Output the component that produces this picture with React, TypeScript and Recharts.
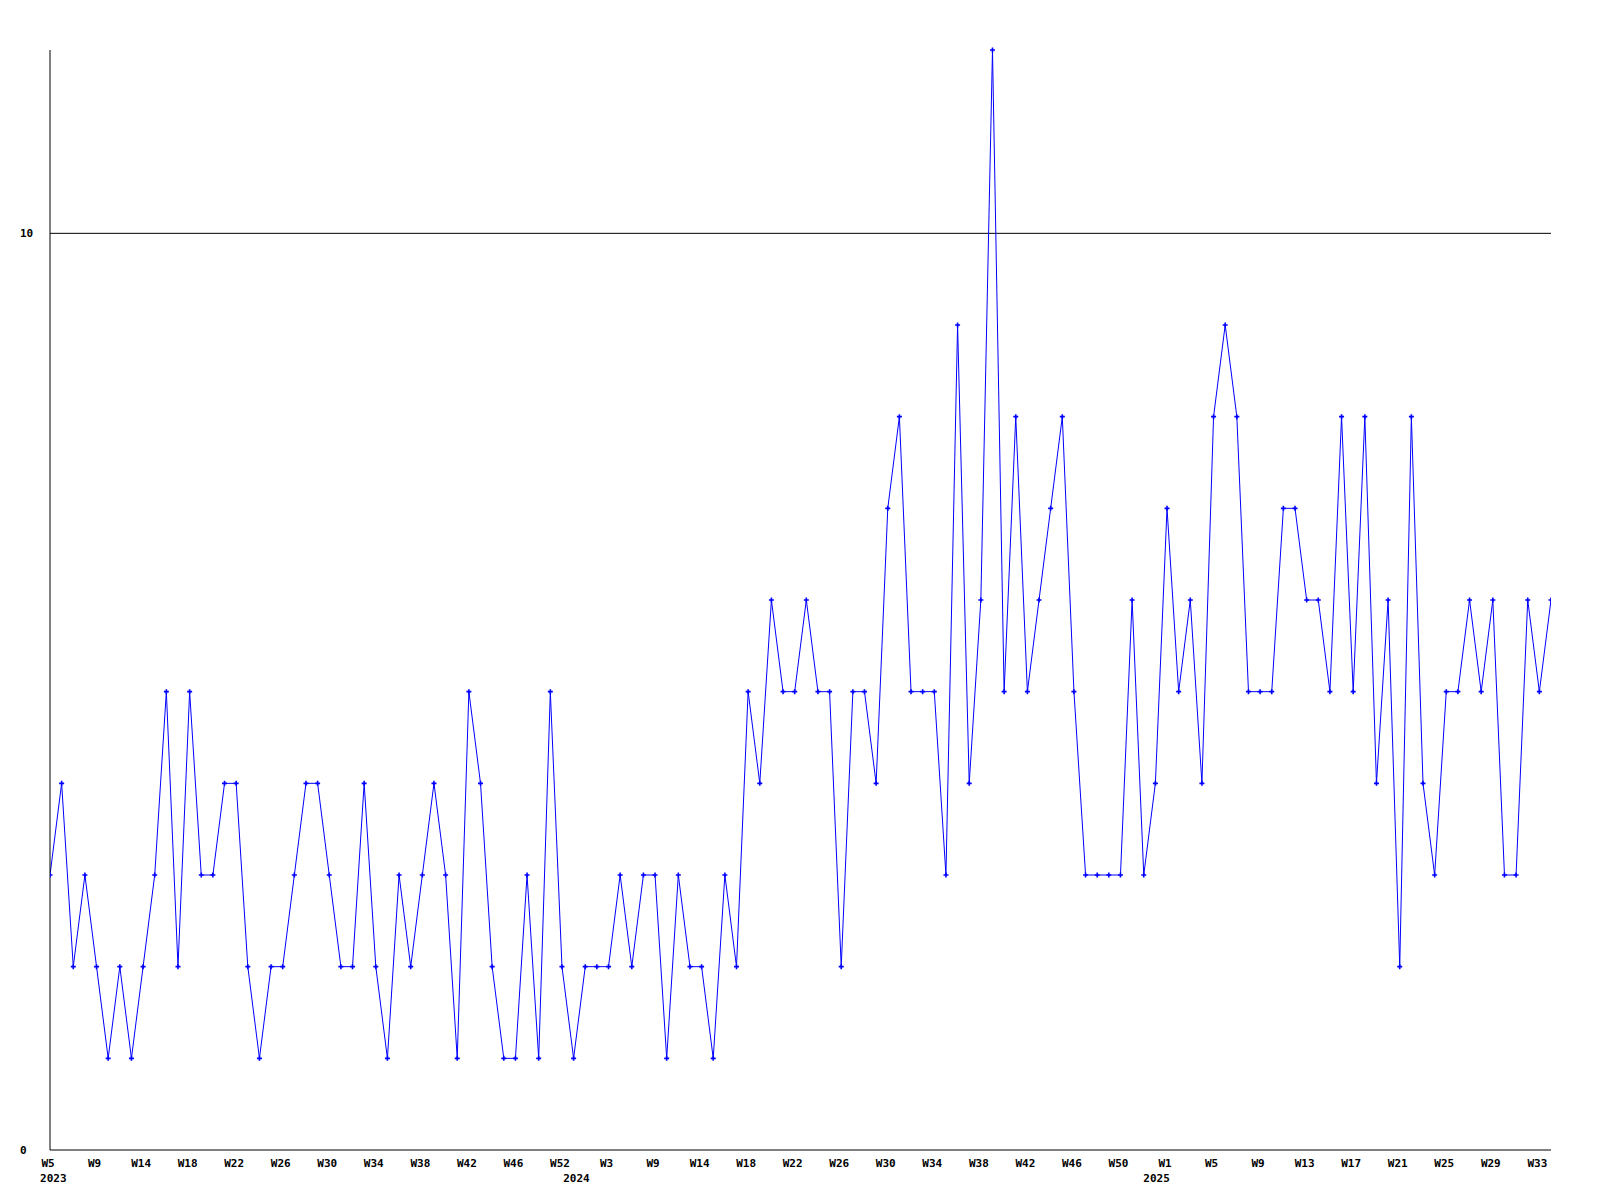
import React from "react";
import { LineChart, Line, XAxis, YAxis, ReferenceLine } from "recharts";

// weekly values, 2023 W5 .. 2025 W34
const values: number[] = [
  3, 4, 2, 3, 2, 1, 2, 1, 2, 3,
  5, 2, 5, 3, 3, 4, 4, 2, 1, 2,
  2, 3, 4, 4, 3, 2, 2, 4, 2, 1,
  3, 2, 3, 4, 3, 1, 5, 4, 2, 1,
  1, 3, 1, 5, 2, 1, 2, 2, 2, 3,
  2, 3, 3, 1, 3, 2, 2, 1, 3, 2,
  5, 4, 6, 5, 5, 6, 5, 5, 2, 5,
  5, 4, 7, 8, 5, 5, 5, 3, 9, 4,
  6, 12, 5, 8, 5, 6, 7, 8, 5, 3,
  3, 3, 3, 6, 3, 4, 7, 5, 6, 4,
  8, 9, 8, 5, 5, 5, 7, 7, 6, 6,
  5, 8, 5, 8, 4, 6, 2, 8, 4, 3,
  5, 5, 6, 5, 6, 3, 3, 6, 5, 6,
];

// week tick labels, one every 4th point
const weekLabels: string[] = [
  "W5", "W9", "W14", "W18", "W22", "W26", "W30", "W34", "W38", "W42", "W46",
  "W52", "W3", "W9", "W14", "W18", "W22", "W26", "W30", "W34", "W38", "W42", "W46", "W50",
  "W1", "W5", "W9", "W13", "W17", "W21", "W25", "W29", "W33",
];
const weekPos: number[] = weekLabels.map((_, k) => k * 4);

const yearLabels: string[] = ["2023", "2024", "2025"];
const yearPos: number[] = [0.29, 45.25, 95.1];

const yTicks: number[] = [0, 10];
const gridValue = 10;

const data = values.map((v, i) => ({ i, v }));

const FONT = "'DejaVu Sans Mono', monospace";

const PlusDot = (props: any) => {
  const { cx, cy, index } = props;
  if (cx == null || cy == null) return null;
  return (
    <path
      key={`d${index}`}
      d={`M${cx - 2.5},${cy} h5 M${cx},${cy - 2.5} v5`}
      stroke="#0000ff"
      strokeWidth={1.6}
      fill="none"
    />
  );
};

const YTick = (props: any) => {
  const { x, y, payload } = props;
  return (
    <text
      x={x}
      y={y}
      dx={-30}
      dy="0.355em"
      textAnchor="start"
      fontFamily={FONT}
      fontSize={11}
      fontWeight="bold"
      fill="#000"
    >
      {payload.value}
    </text>
  );
};

export default function App() {
  const tickStyle = { fontFamily: FONT, fontSize: 11, fontWeight: "bold", fill: "#000" };
  return (
    <div style={{ position: "absolute", left: 0, top: 0, background: "#fff" }}>
      <LineChart
        width={1600}
        height={1200}
        data={data}
        margin={{ top: 50, right: 49, bottom: 12, left: 0 }}
      >
        <XAxis
          dataKey="i"
          type="number"
          domain={[0, 129]}
          ticks={weekPos}
          interval={0}
          tickFormatter={(v: number) => weekLabels[weekPos.indexOf(v)] ?? ""}
          tickLine={false}
          tickSize={0}
          tickMargin={9}
          height={18}
          axisLine={{ stroke: "#000", strokeWidth: 1 }}
          tick={{ ...tickStyle, dx: -2 }}
          allowDataOverflow
        />
        <XAxis
          xAxisId="year"
          dataKey="i"
          type="number"
          domain={[0, 129]}
          ticks={yearPos}
          interval={0}
          tickFormatter={(v: number) => yearLabels[yearPos.indexOf(v)] ?? ""}
          tickLine={false}
          tickSize={0}
          tickMargin={6}
          height={20}
          axisLine={false}
          tick={tickStyle}
          allowDataOverflow
        />
        <YAxis
          type="number"
          domain={[0, 12]}
          ticks={yTicks}
          interval={0}
          width={50}
          tickLine={false}
          tickSize={0}
          tickMargin={0}
          axisLine={{ stroke: "#000", strokeWidth: 1 }}
          tick={<YTick />}
        />
        <ReferenceLine y={gridValue} stroke="#000" strokeWidth={1} />
        <Line
          dataKey="v"
          type="linear"
          stroke="#0000ff"
          strokeWidth={1}
          dot={<PlusDot />}
          activeDot={false}
          isAnimationActive={false}
        />
      </LineChart>
    </div>
  );
}
